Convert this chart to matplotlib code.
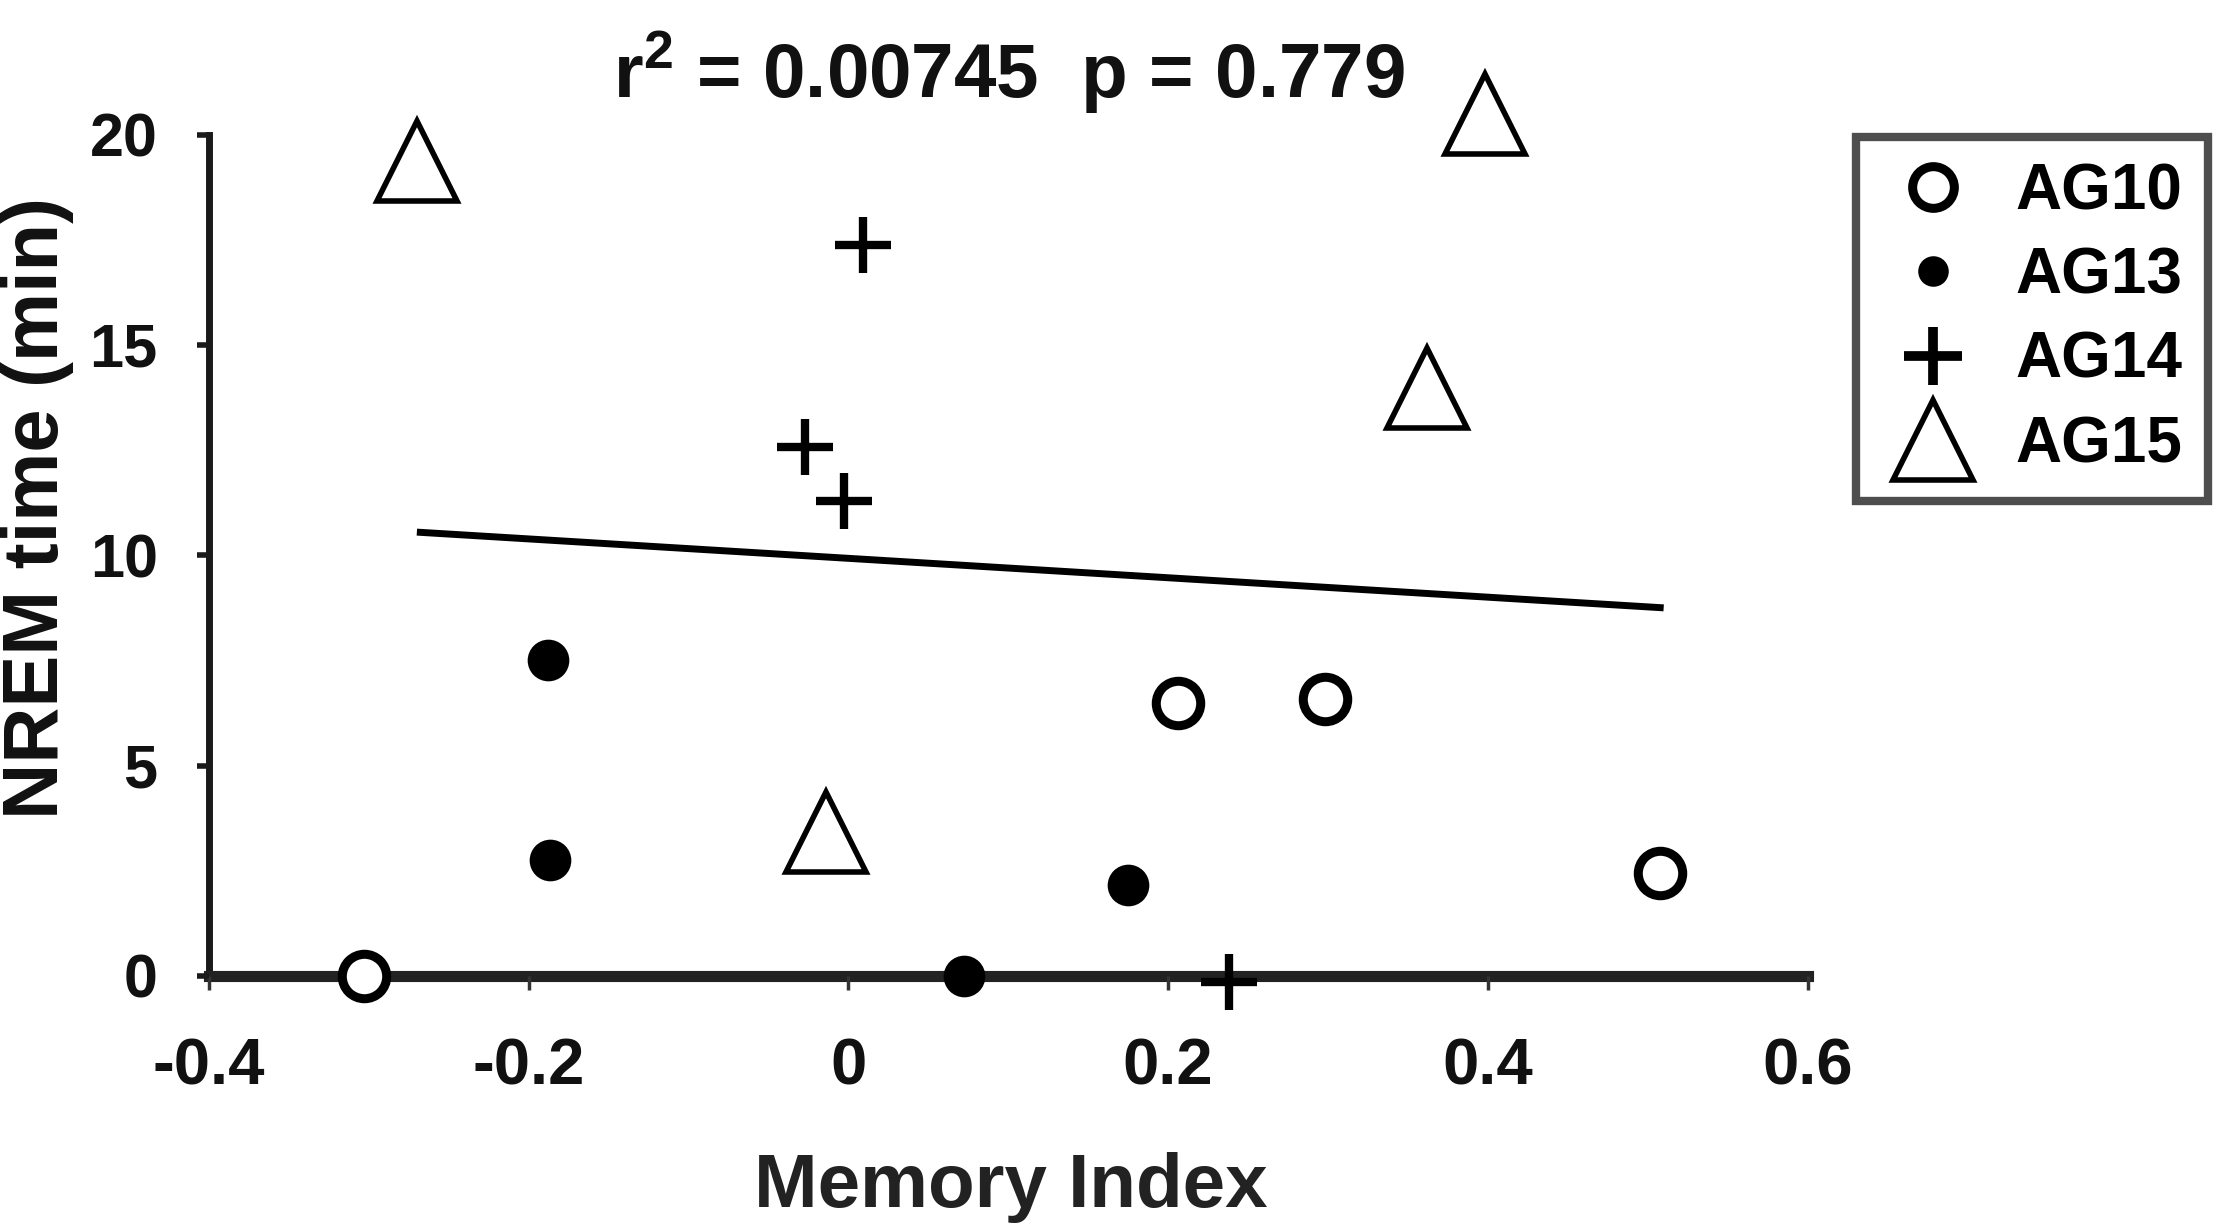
import matplotlib
matplotlib.use('Agg')
import matplotlib.pyplot as plt
from matplotlib.lines import Line2D

plt.rcParams['font.family'] = ['Liberation Sans', 'DejaVu Sans']
plt.rcParams['font.weight'] = 'bold'
plt.rcParams['mathtext.fontset'] = 'custom'
plt.rcParams['mathtext.bf'] = 'Liberation Sans:bold'
plt.rcParams['mathtext.rm'] = 'Liberation Sans:bold'

# data
ag10_x = [-0.303, 0.206, 0.298, 0.508]
ag10_y = [0.0, 6.5, 6.58, 2.44]
ag13_x = [-0.188, -0.187, 0.175, 0.072]
ag13_y = [7.5, 2.76, 2.16, 0.0]
ag14_x = [0.009, -0.027, -0.003, 0.238]
ag14_y = [17.38, 12.57, 11.29, -0.15]
ag15_x = [-0.27, 0.398, 0.362, -0.014]
ag15_y = [19.37, 20.48, 13.97, 3.42]
fit_x = [-0.27, 0.51]
fit_y = [10.55, 8.75]

xticks = [-0.4, -0.2, 0, 0.2, 0.4, 0.6]
xticklabels = ['-0.4', '-0.2', '0', '0.2', '0.4', '0.6']
yticks = [0, 5, 10, 15, 20]

fig = plt.figure(figsize=(22.17, 12.32), dpi=100)
ax = fig.add_axes([0.0943, 0.2078, 0.721, 0.683])

ax.plot(fit_x, fit_y, color='black', lw=5, solid_capstyle='butt', zorder=2)

ax.plot(ag10_x, ag10_y, 'o', ms=32, mfc='white', mec='black', mew=6.5, clip_on=False, zorder=4)
ax.plot(ag13_x, ag13_y, 'o', ms=30, mfc='black', mec='black', mew=0, clip_on=False, zorder=4)
ax.plot(ag14_x, ag14_y, '+', ms=40, mec='black', mew=6, clip_on=False, zorder=4)
ax.plot(ag15_x, ag15_y, '^', ms=57, mfc='white', mec='black', mew=4, clip_on=False, zorder=3)

ax.set_xlim(-0.4, 0.6)
ax.set_ylim(0, 20)

ax.spines['top'].set_visible(False)
ax.spines['right'].set_visible(False)
ax.spines['left'].set_linewidth(5)
ax.spines['left'].set_color('#1a1a1a')
ax.spines['bottom'].set_linewidth(8)
ax.spines['bottom'].set_color('#222222')
ax.spines['left'].set_zorder(1)
ax.spines['bottom'].set_zorder(1)

ax.set_xticks(xticks)
ax.set_xticklabels(xticklabels)
ax.set_yticks(yticks)
ax.tick_params(axis='x', direction='out', length=10, width=2.5, color='#333333',
               labelsize=47, pad=34)
ax.tick_params(axis='y', direction='out', length=9, width=4, color='#1a1a1a',
               labelsize=44, pad=28)
for lab in ax.get_xticklabels() + ax.get_yticklabels():
    lab.set_fontweight('bold')
    lab.set_color('#111111')

fig.text(0.0170, 0.588, 'NREM time (min)', rotation=90, ha='center', va='center',
         fontsize=56, fontweight='bold', color='#111111')
fig.text(0.456, 0.020, 'Memory Index', ha='center', va='baseline',
         fontsize=55, fontweight='bold', color='#222222')
fig.text(0.455, 0.920, r'r$^\mathbf{2}$ = 0.00745  p = 0.779', ha='center', va='baseline',
         fontsize=55, fontweight='bold', color='#111111')

handles = [
    Line2D([], [], ls='none', marker='o', ms=30, mfc='white', mec='black', mew=6.5),
    Line2D([], [], ls='none', marker='o', ms=22, mfc='black', mec='black', mew=0),
    Line2D([], [], ls='none', marker='+', ms=42, mec='black', mew=7),
    Line2D([], [], ls='none', marker='^', ms=57, mfc='white', mec='black', mew=4),
]
leg = fig.legend(handles, ['AG10', 'AG13', 'AG14', 'AG15'], loc='upper right',
                 bbox_to_anchor=(0.996, 0.889), fontsize=46, frameon=True,
                 fancybox=False, borderpad=0.4, handlelength=1.6,
                 handletextpad=0.5, labelspacing=0.38, borderaxespad=0)
leg.get_frame().set_edgecolor('#222222')
leg.get_frame().set_linewidth(6)
for t in leg.get_texts():
    t.set_fontweight('bold')

fig.savefig('out.png', dpi=100, facecolor='white')
